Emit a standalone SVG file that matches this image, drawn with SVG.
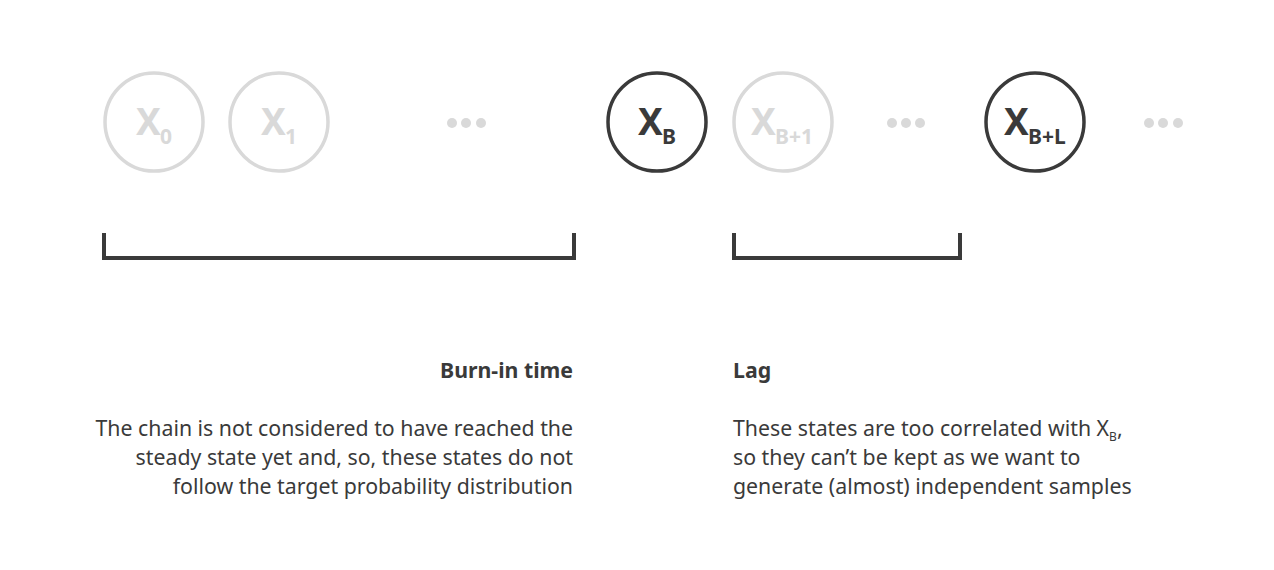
<svg xmlns="http://www.w3.org/2000/svg" width="1274" height="570" viewBox="0 0 1274 570">
<style>
.node{fill:#fff;stroke-width:3.5}
.light{stroke:#d9d9d9}
.dark{stroke:#3a3a3a}
.lt{fill:#d9d9d9}
.dk{fill:#3a3a3a}
.x{font-family:"Noto Sans","Open Sans",sans-serif;font-weight:bold;font-size:37px}
.sub{font-family:"Noto Sans","Open Sans",sans-serif;font-weight:bold;font-size:21px}
.br{fill:none;stroke:#3a3a3a;stroke-width:4}
.h{font-family:"Noto Sans","Open Sans",sans-serif;font-weight:bold;font-size:21.3px;fill:#3a3a3a}
.t{font-family:"Noto Sans","Open Sans",sans-serif;font-size:21.3px;fill:#3a3a3a}
</style>
<rect width="1274" height="570" fill="#fff"/>
<g id="x0">
<circle class="node light" cx="154" cy="122" r="49"/>
<text class="x lt" x="136" y="135">X</text><text class="sub lt" x="160" y="144">0</text>
</g>
<g id="x1">
<circle class="node light" cx="279" cy="122" r="49"/>
<text class="x lt" x="261" y="135">X</text><text class="sub lt" x="285" y="144">1</text>
</g>
<g id="dots1" class="lt"><circle cx="452" cy="123" r="5"/><circle cx="466" cy="123" r="5"/><circle cx="481" cy="123" r="5"/></g>
<g id="xB">
<circle class="node dark" cx="657" cy="122" r="49"/>
<text class="x dk" x="638" y="135">X</text><text class="sub dk" x="662" y="144">B</text>
</g>
<g id="xB1">
<circle class="node light" cx="783" cy="122" r="49"/>
<text class="x lt" x="751" y="135">X</text><text class="sub lt" x="775" y="144">B+1</text>
</g>
<g id="dots2" class="lt"><circle cx="892" cy="123" r="5"/><circle cx="906" cy="123" r="5"/><circle cx="920" cy="123" r="5"/></g>
<g id="xBL">
<circle class="node dark" cx="1035" cy="122" r="49"/>
<text class="x dk" x="1004" y="135">X</text><text class="sub dk" x="1028" y="144">B+L</text>
</g>
<g id="dots3" class="lt"><circle cx="1149" cy="123" r="5"/><circle cx="1163" cy="123" r="5"/><circle cx="1178" cy="123" r="5"/></g>
<g id="connectors">
<path class="br" d="M104 233 V258 H574 V233"/>
<path class="br" d="M734 233 V258 H960 V233"/>
</g>
<g id="burnin">
<text class="h" x="573" y="378" text-anchor="end">Burn-in time</text>
<text class="t" text-anchor="end"><tspan x="573" y="436">The chain is not considered to have reached the</tspan><tspan x="573" y="465">steady state yet and, so, these states do not</tspan><tspan x="573" y="494">follow the target probability distribution</tspan></text>
</g>
<g id="lag">
<text class="h" x="733" y="378">Lag</text>
<text class="t"><tspan x="733" y="436">These states are too correlated with X<tspan font-size="12" dy="5">B</tspan><tspan dy="-5">,</tspan></tspan><tspan x="733" y="465">so they can’t be kept as we want to</tspan><tspan x="733" y="494">generate (almost) independent samples</tspan></text>
</g>
</svg>
